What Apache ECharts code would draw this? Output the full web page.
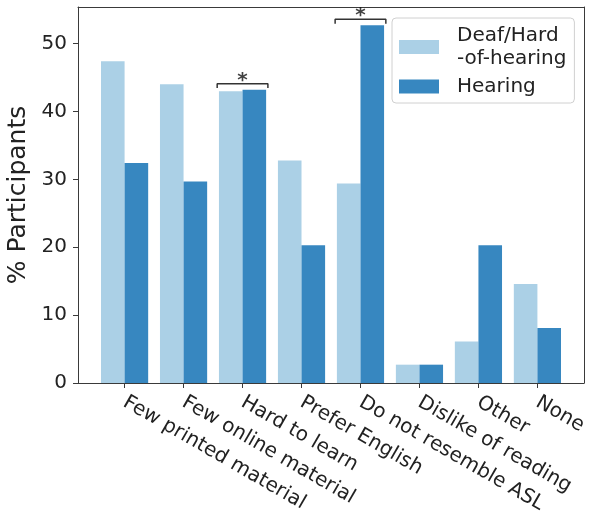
<!DOCTYPE html>
<html>
<head>
<meta charset="utf-8">
<script src="https://cdn.jsdelivr.net/npm/echarts@6/dist/echarts.min.js"></script>
<style>
  html, body { margin: 0; padding: 0; background: #fff; }
  #chart { width: 589px; height: 512px; }
</style>
</head>
<body>
<div id="chart"></div>
<script>
// Reasons given for not using the resource, by participant group (% of participants)
const categories = [
  'Few printed material', 'Few online material', 'Hard to learn', 'Prefer English',
  'Do not resemble ASL', 'Dislike of reading', 'Other', 'None'
];
const deafValues    = [47.4, 44.0, 43.0, 32.8, 29.4, 2.7, 6.1, 14.6];
const hearingValues = [32.4, 29.7, 43.2, 20.3, 52.7, 2.7, 20.3, 8.1];
const yTicks = [0, 10, 20, 30, 40, 50];
// categories whose group difference is marked as significant
const significant = [2, 4];

const seriesNames = ['Deaf/Hard\n-of-hearing', 'Hearing'];
const colors = ['#abd0e6', '#3787c0'];
const textColor = '#222';
const spineColor = '#3a3a3a';
const fontFamily = 'DejaVu Sans';

const xIdx = categories.map((_, i) => i);

// bracket + asterisk over each significant pair
const bracketSeries = significant.map(i => {
  const top = Math.max(deafValues[i], hearingValues[i]) + 0.9;
  const half = 0.43;
  return {
    type: 'line',
    data: [[i - half, top - 0.65], [i - half, top], [i + half, top], [i + half, top - 0.65]],
    symbol: 'none',
    lineStyle: { color: '#333', width: 1.5 },
    silent: true,
    z: 5
  };
});
const starSeries = {
  type: 'scatter',
  data: significant.map(i => [i, Math.max(deafValues[i], hearingValues[i]) + 1.4]),
  symbolSize: 0,
  label: {
    show: true, position: 'inside', formatter: '*',
    fontSize: 20, fontWeight: 'bold', color: '#111', fontFamily
  },
  silent: true,
  z: 6
};

const chart = echarts.init(document.getElementById('chart'), null, { renderer: 'canvas' });
chart.setOption({
  animation: false,
  backgroundColor: '#fff',
  textStyle: { fontFamily },
  grid: { left: 78, top: 7, width: 506, height: 376, outerBoundsMode: 'none', containLabel: false },
  legend: {
    data: seriesNames,
    orient: 'vertical',
    left: 392, top: 18,
    padding: [6, 8, 5, 7],
    itemGap: 5,
    itemWidth: 40, itemHeight: 14,
    icon: 'rect',
    borderColor: '#d0d0d0', borderWidth: 1, borderRadius: 4,
    backgroundColor: 'rgba(255,255,255,0.8)',
    textStyle: { fontSize: 20, lineHeight: 23, color: textColor, fontFamily, padding: [0, 0, 0, 13] }
  },
  xAxis: [{
    type: 'value',
    min: -0.79, max: 7.79,
    axisLine: { show: true, onZero: false, lineStyle: { color: spineColor, width: 1 } },
    axisTick: { show: true, length: 5, customValues: xIdx, lineStyle: { color: spineColor } },
    axisLabel: {
      customValues: xIdx,
      formatter: v => categories[Math.round(v)],
      rotate: -30, margin: 18,
      fontSize: 20, color: textColor, fontFamily
    },
    splitLine: { show: false }
  }, {
    type: 'value', position: 'top',
    min: -0.79, max: 7.79,
    axisLine: { show: true, onZero: false, lineStyle: { color: spineColor, width: 1 } },
    axisTick: { show: false }, axisLabel: { show: false }, splitLine: { show: false }
  }],
  yAxis: [{
    type: 'value',
    min: 0, max: 55.4,
    name: '% Participants',
    nameLocation: 'middle', nameGap: 45,
    nameTextStyle: { fontSize: 25, color: textColor, fontFamily },
    axisLine: { show: true, onZero: false, lineStyle: { color: spineColor, width: 1 } },
    axisTick: { show: true, length: 5, customValues: yTicks, lineStyle: { color: spineColor } },
    axisLabel: { customValues: yTicks, margin: 11, fontSize: 20, color: textColor, fontFamily },
    splitLine: { show: false }
  }, {
    type: 'value', position: 'right',
    min: 0, max: 55.4,
    axisLine: { show: true, onZero: false, lineStyle: { color: spineColor, width: 1 } },
    axisTick: { show: false }, axisLabel: { show: false }, splitLine: { show: false }
  }],
  series: [
    {
      name: seriesNames[0], type: 'bar',
      data: deafValues.map((v, i) => [i, v]),
      barWidth: '40%', barGap: '0%',
      itemStyle: { color: colors[0] }
    },
    {
      name: seriesNames[1], type: 'bar',
      data: hearingValues.map((v, i) => [i, v]),
      barWidth: '40%', barGap: '0%',
      itemStyle: { color: colors[1] }
    },
    ...bracketSeries,
    starSeries
  ]
});
</script>
</body>
</html>
